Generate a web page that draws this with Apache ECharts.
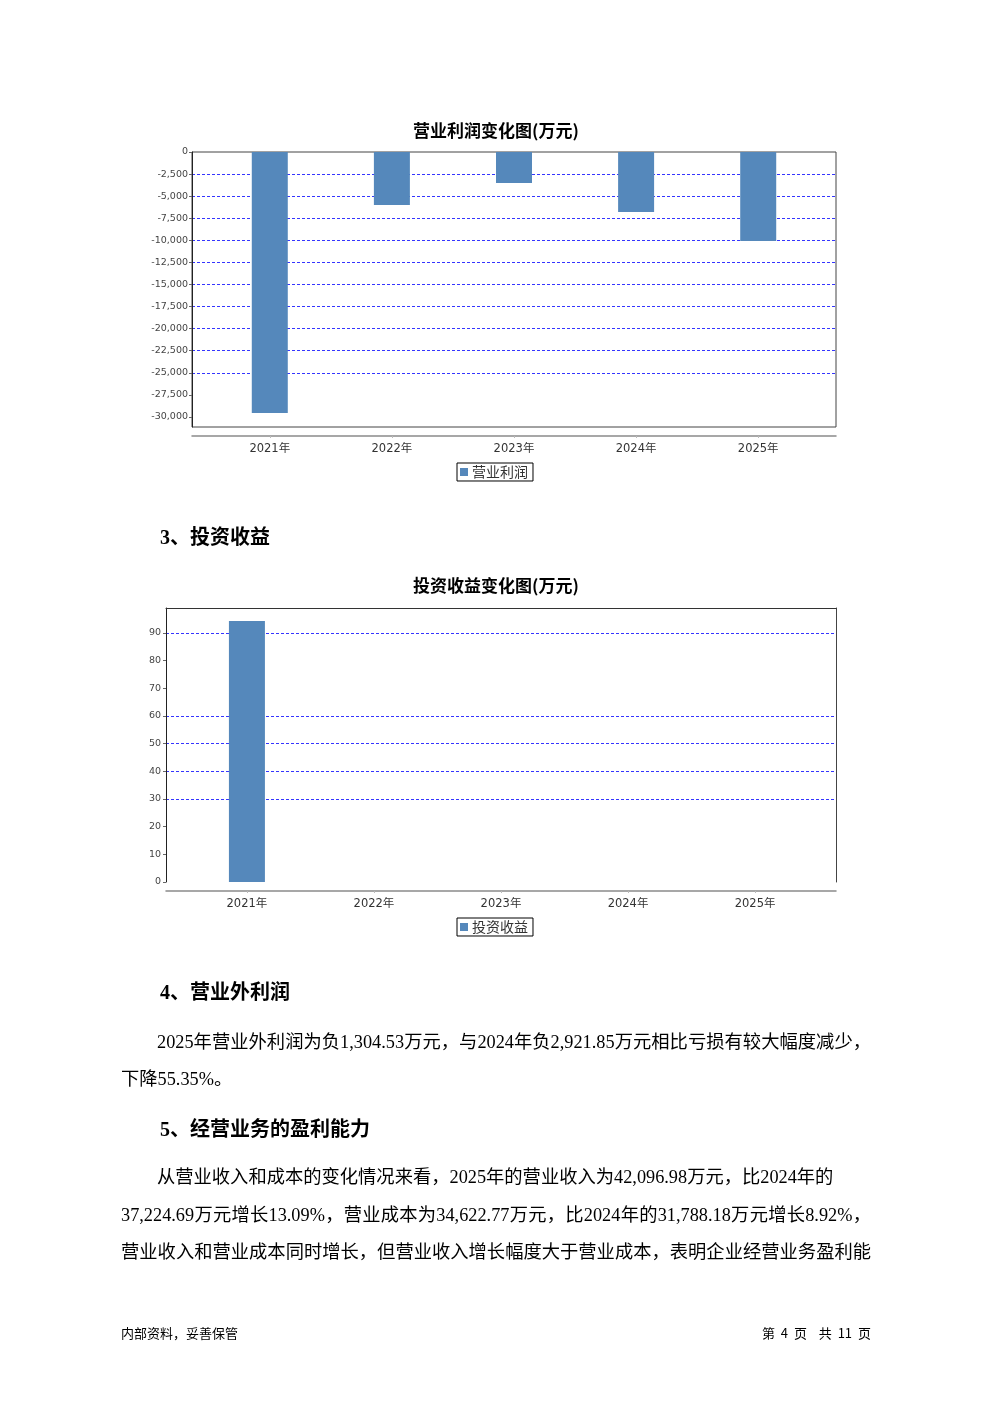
<!DOCTYPE html>
<html>
<head>
<meta charset="utf-8">
<script src="https://cdn.jsdelivr.net/npm/echarts@6/dist/echarts.min.js"></script>
<style>
  html, body { margin: 0; padding: 0; background: #fff; }
  #page { position: relative; width: 992px; height: 1403px; overflow: hidden; background: #fff; }
  #chart { position: absolute; left: 0; top: 0; width: 992px; height: 1403px; }
  .t { position: absolute; white-space: nowrap; color: #000; font-family: "Liberation Serif", "Noto Sans CJK SC", serif; line-height: 24px; }
  .h { font-weight: bold; font-size: 20px; }
  .p { font-size: 18.3px; }
  .j { text-align: justify; text-align-last: justify; }
  .f { font-size: 13px; font-family: "Noto Sans CJK SC", sans-serif; }
  .pg { white-space: pre; word-spacing: 3px; }
</style>
</head>
<body>
<div id="page">
  <div id="chart"></div>
  <div class="t h" style="left:160px; top:525px;">3、投资收益</div>
  <div class="t h" style="left:160px; top:980px;">4、营业外利润</div>
  <div class="t p j" style="left:157px; top:1030px; width:714px;">2025年营业外利润为负1,304.53万元，与2024年负2,921.85万元相比亏损有较大幅度减少，</div>
  <div class="t p" style="left:121px; top:1067px;">下降55.35%。</div>
  <div class="t h" style="left:160px; top:1117px;">5、经营业务的盈利能力</div>
  <div class="t p" style="left:157px; top:1165px;">从营业收入和成本的变化情况来看，2025年的营业收入为42,096.98万元，比2024年的</div>
  <div class="t p j" style="left:121px; top:1203px; width:750px;">37,224.69万元增长13.09%，营业成本为34,622.77万元，比2024年的31,788.18万元增长8.92%，</div>
  <div class="t p j" style="left:121px; top:1240px; width:750px;">营业收入和营业成本同时增长，但营业收入增长幅度大于营业成本，表明企业经营业务盈利能</div>
  <div class="t f" style="left:121px; top:1321px;">内部资料，妥善保管</div>
  <div class="t f pg" style="right:121px; top:1321px;">第 4 页  共 11 页</div>
</div>
<script>
// ---- data ----
const categories = ['2021年', '2022年', '2023年', '2024年', '2025年'];
const opProfit = [-29550, -6000, -3500, -6800, -10080];          // 营业利润 (万元)
const invIncome = [94.3, 0, 0, 0, 0];                              // 投资收益 (万元)
const opTicks = [0, -2500, -5000, -7500, -10000, -12500, -15000, -17500, -20000, -22500, -25000, -27500, -30000];
const opGrid = [-2500, -5000, -7500, -10000, -12500, -15000, -17500, -20000, -22500, -25000];
const invTicks = [0, 10, 20, 30, 40, 50, 60, 70, 80, 90];
const invGrid = [30, 40, 50, 60, 90];
const catIdx = [0, 1, 2, 3, 4];

const BAR = '#5588bb';
const GRIDLINE = '#3535ff';
const axisFont = 'DejaVu Sans, Noto Sans CJK SC, sans-serif';

function fmt(v) { return Number(v).toLocaleString('en-US'); }

const chart = echarts.init(document.getElementById('chart'), null, { renderer: 'canvas' });

function xCat(gridIndex) {
  return {
    type: 'value', gridIndex: gridIndex, min: -0.637, max: 4.637, offset: 9,
    axisLine: { show: true, onZero: false, lineStyle: { color: '#8a8a8a', width: 1.5 } },
    axisTick: { show: true, customValues: catIdx, length: 2, lineStyle: { color: '#bbb' } },
    axisLabel: { customValues: catIdx, formatter: v => categories[Math.round(v)], color: '#333', fontSize: 11.5, fontFamily: axisFont, margin: 7 },
    splitLine: { show: false }
  };
}
// hidden axis that only carries the dashed grid lines
function gridAxis(gridIndex, min, max, vals) {
  return {
    type: 'value', gridIndex: gridIndex, min: min, max: max,
    axisLine: { show: false }, axisLabel: { show: false, customValues: vals },
    axisTick: { show: false, customValues: vals },
    splitLine: { show: true, lineStyle: { color: GRIDLINE, type: [3, 2], width: 1 } }
  };
}

const titleStyle = { fontSize: 17, fontWeight: 'bold', color: '#000', fontFamily: 'Noto Sans CJK SC' };
const legendBase = { orient: 'horizontal', icon: 'rect', itemWidth: 8, itemHeight: 8, itemGap: 4,
  borderColor: '#000', borderWidth: 1, padding: [2, 5, 2, 3], textStyle: { fontSize: 14, color: '#333', fontFamily: 'Noto Sans CJK SC', padding: [0, 0, 0, -1] } };

const option = {
  animation: false,
  backgroundColor: '#fff',
  title: [
    { text: '营业利润变化图(万元)', left: 'center', top: 117, textStyle: titleStyle },
    { text: '投资收益变化图(万元)', left: 'center', top: 572, textStyle: titleStyle }
  ],
  legend: [
    Object.assign({ data: ['营业利润'], left: 457, top: 463 }, legendBase),
    Object.assign({ data: ['投资收益'], left: 457, top: 918 }, legendBase)
  ],
  grid: [
    { left: 192, top: 152, width: 644, height: 275, show: true, borderColor: '#444', borderWidth: 1, backgroundColor: 'transparent' },
    { left: 166, top: 608, width: 670, height: 274, show: false }
  ],
  xAxis: [
    xCat(0),
    xCat(1),
    { type: 'value', gridIndex: 1, position: 'top', min: 0, max: 1, axisLine: { show: true, onZero: false, lineStyle: { color: '#333' } }, axisTick: { show: false }, axisLabel: { show: false }, splitLine: { show: false } }
  ],
  yAxis: [
    { type: 'value', gridIndex: 0, min: -31136, max: 0,
      axisLine: { show: true, onZero: false, lineStyle: { color: '#222' } },
      axisTick: { show: true, customValues: opTicks, length: 3, lineStyle: { color: '#666' } },
      axisLabel: { customValues: opTicks, formatter: fmt, color: '#444', fontSize: 9.5, fontFamily: axisFont, margin: 4 },
      splitLine: { show: false } },
    { type: 'value', gridIndex: 1, min: 0, max: 99,
      axisLine: { show: true, onZero: false, lineStyle: { color: '#222' } },
      axisTick: { show: true, customValues: invTicks, length: 3, lineStyle: { color: '#666' } },
      axisLabel: { customValues: invTicks, formatter: fmt, color: '#444', fontSize: 9.5, fontFamily: axisFont, margin: 5 },
      splitLine: { show: false } },
    { type: 'value', gridIndex: 1, position: 'right', min: 0, max: 99,
      axisLine: { show: true, onZero: false, lineStyle: { color: '#444' } }, axisTick: { show: false }, axisLabel: { show: false }, splitLine: { show: false } },
    gridAxis(0, -31136, 0, opGrid),
    gridAxis(1, 0, 99, invGrid)
  ],
  series: [
    { name: '营业利润', type: 'bar', xAxisIndex: 0, yAxisIndex: 0, z: 3, barWidth: 36,
      itemStyle: { color: BAR }, data: opProfit.map((v, i) => [catIdx[i], v]) },
    { name: '投资收益', type: 'bar', xAxisIndex: 1, yAxisIndex: 1, z: 3, barWidth: 36,
      itemStyle: { color: BAR }, data: invIncome.map((v, i) => [catIdx[i], v]) }
  ]
};
chart.setOption(option);
</script>
</body>
</html>
